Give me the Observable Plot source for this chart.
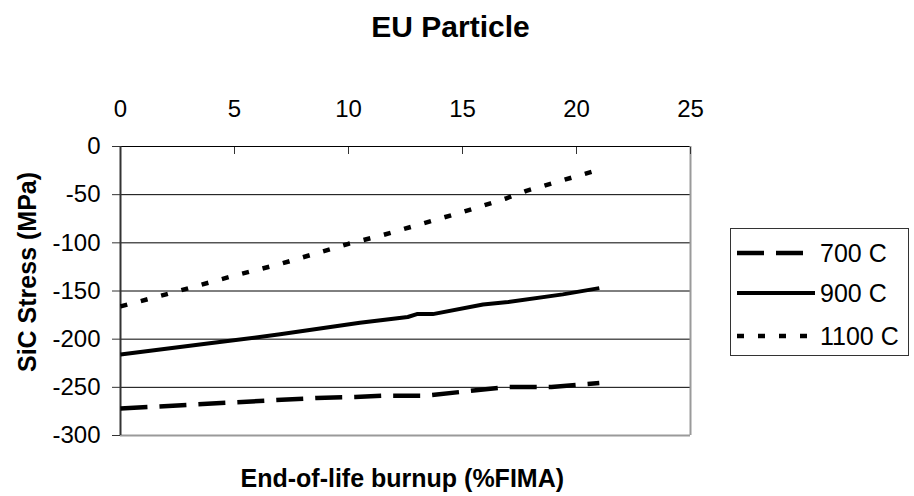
<!DOCTYPE html>
<html>
<head>
<meta charset="utf-8">
<script src="https://cdn.jsdelivr.net/npm/d3@7"></script>
<script src="https://cdn.jsdelivr.net/npm/@observablehq/plot@0.6"></script>
<style>
  html, body { margin: 0; padding: 0; background: #fff; }
  #chart { position: relative; width: 914px; height: 496px; font-family: "Liberation Sans", Arial, sans-serif; }
  #legend { position: absolute; left: 730px; top: 228px; }
</style>
</head>
<body>
<div id="chart"></div>
<script>
// SiC layer stress vs. end-of-life burnup for the EU particle, three irradiation temperatures
const seriesNames = ["700 C", "900 C", "1100 C"];

const burnup700 = [0, 8.6, 10.3, 11.5, 13.4, 16.9, 18.9, 21];
const stress700 = [-272, -261, -260, -258.7, -258.7, -249.7, -249.7, -245.5];

const burnup900 = [0, 4, 7, 10.5, 12.6, 13, 13.7, 15.9, 17, 19.4, 21];
const stress900 = [-216, -204, -195, -183, -177, -174, -174, -164, -161.5, -153.5, -147];

const burnup1100 = [0, 2, 5, 7, 10, 11.5, 15, 16.9, 17.8, 21];
const stress1100 = [-166, -153.5, -134, -122, -101, -92, -68, -54, -46, -24];

const xTicks = [0, 5, 10, 15, 20, 25];
const yTicks = [0, -50, -100, -150, -200, -250, -300];

const titleText = "EU Particle";
const xLabel = "End-of-life burnup (%FIMA)";
const yLabel = "SiC Stress (MPa)";

const dashes = {"700 C": "27,12", "900 C": null, "1100 C": "7,14"};
const widths = {"700 C": 4.5, "900 C": 4, "1100 C": 4.5};

const rows = [
  ...burnup700.map((b, i) => ({series: "700 C", burnup: b, stress: stress700[i]})),
  ...burnup900.map((b, i) => ({series: "900 C", burnup: b, stress: stress900[i]})),
  ...burnup1100.map((b, i) => ({series: "1100 C", burnup: b, stress: stress1100[i]}))
];

const font = "Liberation Sans, Arial, sans-serif";

const lineMarks = seriesNames.map(name =>
  Plot.line(rows.filter(d => d.series === name), {
    x: "burnup", y: "stress",
    stroke: "#000", strokeWidth: widths[name],
    strokeDasharray: dashes[name], strokeLinecap: "butt", strokeLinejoin: "round"
  })
);

const plot = Plot.plot({
  width: 914, height: 496,
  marginLeft: 120, marginRight: 224, marginTop: 146, marginBottom: 61,
  style: {fontFamily: font, fontSize: "24px", color: "#000", background: "#fff", overflow: "visible"},
  x: {domain: [0, 25]},
  y: {domain: [-300, 0]},
  marks: [
    Plot.gridY(yTicks.filter(d => d !== -300), {stroke: "#000", strokeOpacity: 1, strokeWidth: 1}),
    // gray border of the plot area (bottom and right)
    Plot.ruleY([-300], {stroke: "#9a9a9a", strokeWidth: 2}),
    Plot.ruleX([25], {stroke: "#9a9a9a", strokeWidth: 2}),
    // value axis line
    Plot.ruleX([0], {stroke: "#333", strokeWidth: 2}),
    ...lineMarks,
    // top axis: tick marks pointing into the plot, labels above
    Plot.axisX(xTicks, {anchor: "top", tickSize: 7, dy: 7, text: null, stroke: "#333", label: null}),
    Plot.axisX(xTicks, {anchor: "top", tickSize: 0, tickPadding: 30, label: null, fontSize: 24, tickFormat: d => String(d)}),
    Plot.axisY(yTicks, {anchor: "left", tickSize: 8, tickPadding: 12, stroke: "#333", label: null, fontSize: 24, tickFormat: d => String(d)}),
    Plot.text([titleText], {frameAnchor: "top", dx: 45, dy: -131, fontSize: 30, fontWeight: "bold", fontFamily: font}),
    Plot.text([yLabel], {frameAnchor: "left", textAnchor: "middle", rotate: -90, dx: -93, dy: -19, fontSize: 25, fontWeight: "bold", fontFamily: font}),
    Plot.text([xLabel], {frameAnchor: "bottom", textAnchor: "start", dx: -165, dy: 51, fontSize: 25, fontWeight: "bold", fontFamily: font})
  ]
});

const chart = document.getElementById("chart");
chart.appendChild(plot);

// legend box with line-style samples
const lg = d3.select(chart).append("svg")
  .attr("id", "legend")
  .attr("width", 180).attr("height", 129)
  .style("font-family", font);
lg.append("rect").attr("x", 0.5).attr("y", 0.5).attr("width", 178).attr("height", 127)
  .attr("fill", "#fff").attr("stroke", "#333").attr("stroke-width", 1);
const rowY = [25, 65, 108];
seriesNames.forEach((name, i) => {
  lg.append("line")
    .attr("x1", 7).attr("x2", 85).attr("y1", rowY[i]).attr("y2", rowY[i])
    .attr("stroke", "#000").attr("stroke-width", widths[name])
    .attr("stroke-dasharray", dashes[name]);
  lg.append("text")
    .attr("x", 90).attr("y", rowY[i]).attr("dy", "0.36em")
    .attr("font-size", 25).text(name);
});
</script>
</body>
</html>
